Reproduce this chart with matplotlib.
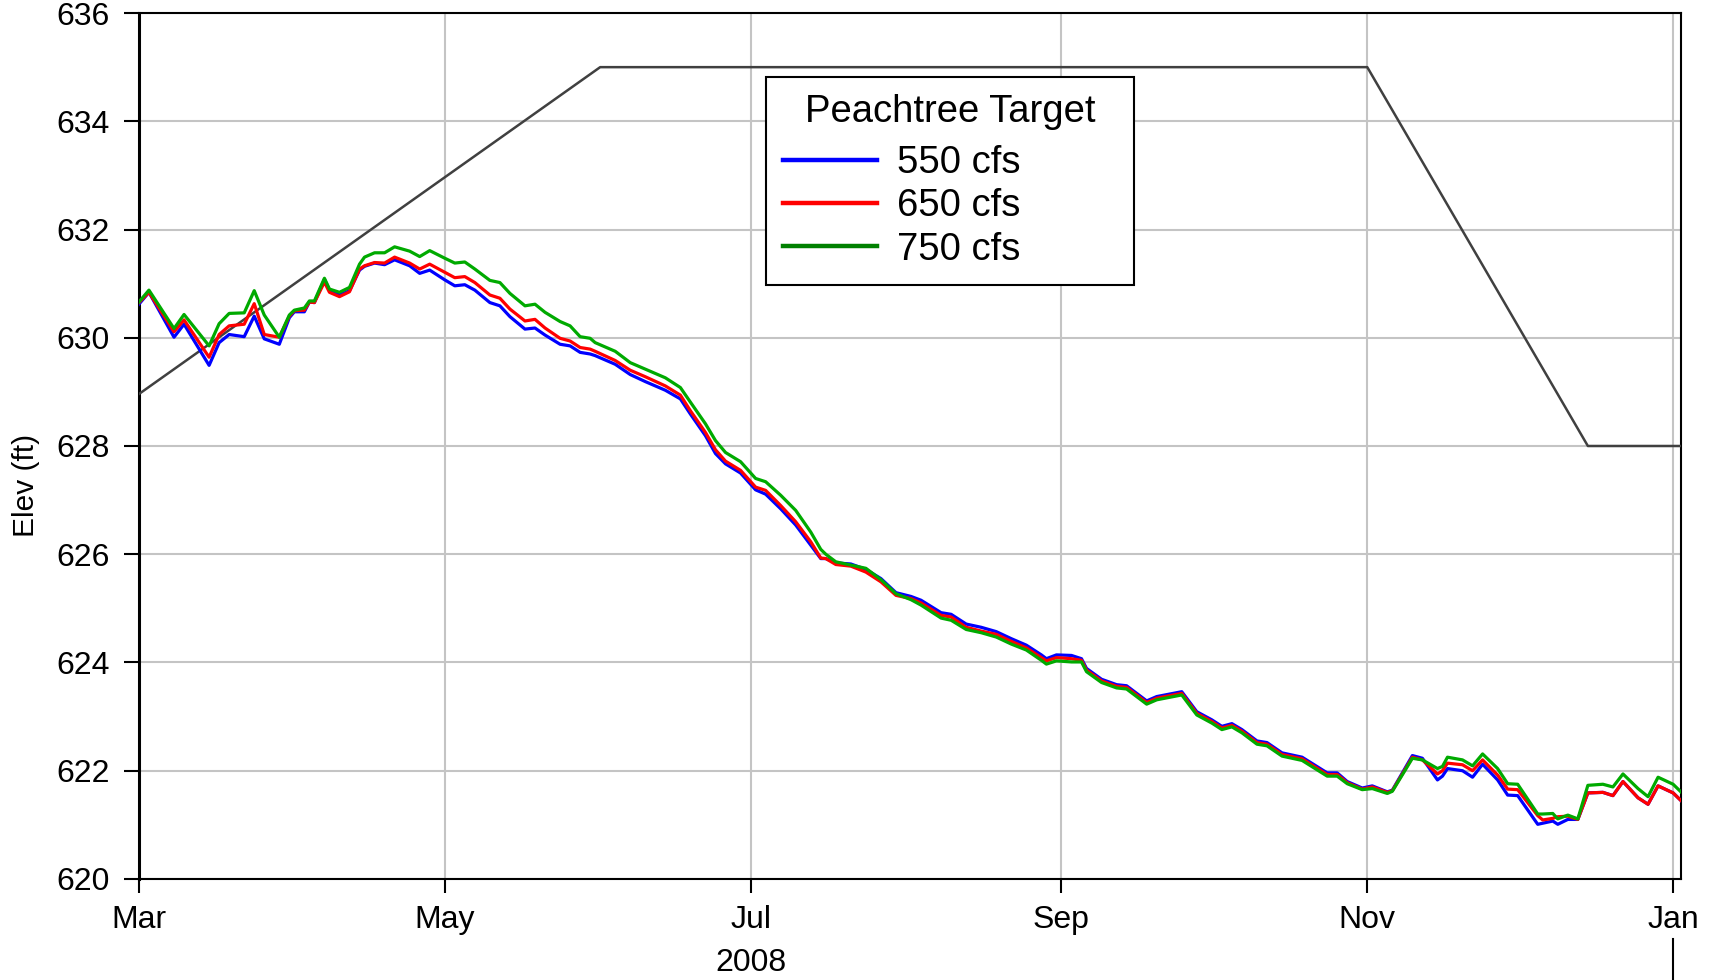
import numpy as np
import matplotlib
matplotlib.use('Agg')
from matplotlib import pyplot as plt
import matplotlib.dates as mdates
from matplotlib.lines import Line2D

plt.rcParams['font.family'] = ['Liberation Sans', 'DejaVu Sans']

# days after 2008-03-01
days = [0, 2, 7, 9, 14, 16, 18, 21, 23, 25, 28, 30, 31, 33, 34, 35, 37, 38, 40, 42,
        44, 45, 47, 49, 51, 54, 56, 58, 61, 63, 65, 67, 70, 72, 74, 77, 79, 81, 84, 86,
        88, 90, 91, 95, 98, 101, 105, 108, 110, 113, 115, 117, 120, 123, 125, 128, 131, 134, 136, 137,
        139, 142, 145, 148, 151, 154, 156, 160, 162, 165, 168, 171, 174, 177, 180, 181, 183, 186, 188, 189,
        192, 195, 197, 201, 203, 208, 211, 214, 216, 218, 220, 223, 225, 228, 231, 232, 237, 239, 241, 244,
        246, 249, 250, 254, 256, 259, 260, 261, 264, 266, 268, 271, 273, 275, 279, 280, 282, 283, 285, 287,
        289, 292, 294, 296, 299, 301, 303, 306, 308]

elev_550 = [630.62, 630.84, 630.01, 630.25, 629.49, 629.91, 630.06, 630.02, 630.40, 629.98,
            629.88, 630.37, 630.48, 630.48, 630.66, 630.65, 631.08, 630.88, 630.79, 630.87,
            631.25, 631.32, 631.38, 631.35, 631.44, 631.33, 631.19, 631.25, 631.07, 630.96,
            630.98, 630.88, 630.65, 630.59, 630.39, 630.16, 630.18, 630.05, 629.88, 629.85,
            629.73, 629.70, 629.67, 629.51, 629.32, 629.19, 629.03, 628.87, 628.59, 628.19,
            627.86, 627.67, 627.50, 627.19, 627.11, 626.84, 626.54, 626.17, 625.92, 625.92,
            625.84, 625.82, 625.72, 625.55, 625.29, 625.22, 625.15, 624.92, 624.89, 624.71,
            624.65, 624.57, 624.44, 624.32, 624.14, 624.07, 624.14, 624.13, 624.07, 623.89,
            623.69, 623.59, 623.57, 623.29, 623.37, 623.46, 623.09, 622.94, 622.82, 622.87,
            622.76, 622.55, 622.52, 622.33, 622.27, 622.25, 621.96, 621.96, 621.80, 621.68,
            621.72, 621.61, 621.64, 622.28, 622.23, 621.83, 621.90, 622.04, 622.00, 621.88,
            622.12, 621.83, 621.55, 621.54, 621.01, 621.03, 621.07, 621.01, 621.10, 621.10,
            621.59, 621.60, 621.54, 621.80, 621.50, 621.38, 621.72, 621.59, 621.41]

elev_650 = [630.65, 630.84, 630.11, 630.33, 629.64, 630.06, 630.22, 630.25, 630.63, 630.06,
            630.01, 630.40, 630.50, 630.51, 630.66, 630.65, 631.03, 630.84, 630.76, 630.85,
            631.27, 631.33, 631.39, 631.38, 631.49, 631.38, 631.27, 631.36, 631.21, 631.11,
            631.13, 631.02, 630.79, 630.73, 630.53, 630.31, 630.34, 630.18, 629.99, 629.94,
            629.82, 629.79, 629.75, 629.58, 629.40, 629.28, 629.11, 628.94, 628.65, 628.25,
            627.93, 627.72, 627.55, 627.24, 627.18, 626.90, 626.60, 626.23, 625.93, 625.92,
            625.81, 625.78, 625.67, 625.49, 625.24, 625.18, 625.10, 624.87, 624.84, 624.65,
            624.58, 624.52, 624.39, 624.27, 624.09, 624.03, 624.09, 624.07, 624.04, 623.86,
            623.66, 623.56, 623.54, 623.26, 623.34, 623.43, 623.06, 622.91, 622.79, 622.84,
            622.73, 622.52, 622.49, 622.30, 622.24, 622.22, 621.93, 621.93, 621.78, 621.66,
            621.70, 621.60, 621.63, 622.25, 622.20, 621.94, 622.00, 622.14, 622.11, 622.00,
            622.20, 621.92, 621.66, 621.65, 621.17, 621.09, 621.12, 621.15, 621.16, 621.10,
            621.59, 621.60, 621.54, 621.80, 621.50, 621.38, 621.72, 621.59, 621.41]

elev_750 = [630.66, 630.88, 630.17, 630.43, 629.85, 630.26, 630.45, 630.46, 630.87, 630.42,
            630.01, 630.42, 630.51, 630.55, 630.68, 630.68, 631.10, 630.90, 630.84, 630.93,
            631.36, 631.49, 631.57, 631.57, 631.68, 631.60, 631.50, 631.61, 631.47, 631.38,
            631.40, 631.27, 631.06, 631.02, 630.82, 630.59, 630.62, 630.47, 630.30, 630.22,
            630.02, 629.99, 629.91, 629.75, 629.54, 629.42, 629.26, 629.08, 628.81, 628.41,
            628.10, 627.88, 627.71, 627.40, 627.34, 627.09, 626.81, 626.41, 626.09, 626.00,
            625.86, 625.80, 625.74, 625.53, 625.27, 625.16, 625.06, 624.82, 624.78, 624.61,
            624.55, 624.47, 624.34, 624.23, 624.04, 623.97, 624.03, 624.01, 624.01, 623.83,
            623.63, 623.53, 623.51, 623.23, 623.31, 623.40, 623.03, 622.88, 622.76, 622.81,
            622.70, 622.49, 622.46, 622.27, 622.21, 622.19, 621.90, 621.90, 621.76, 621.65,
            621.67, 621.58, 621.62, 622.23, 622.20, 622.04, 622.08, 622.25, 622.20, 622.09,
            622.31, 622.04, 621.76, 621.75, 621.20, 621.20, 621.21, 621.11, 621.18, 621.11,
            621.73, 621.75, 621.70, 621.94, 621.67, 621.52, 621.88, 621.75, 621.57]

# guide curve
target_days = [0, 92, 245, 289, 308]
target_elev = [628.96, 635.0, 635.0, 628.0, 628.0]

labels = ['550 cfs', '650 cfs', '750 cfs']
line_colors = ['#0000ff', '#ff0000', '#00aa00']
legend_colors = ['#0000ff', '#ff0000', '#008000']

start = np.datetime64('2008-03-01')
x = start + np.array(days).astype('timedelta64[D]')
xt = start + np.array(target_days).astype('timedelta64[D]')

fig = plt.figure(figsize=(17.15, 9.8), dpi=100)
ax = fig.add_axes([0.0810, 0.1031, 0.8992, 0.8836])

ax.plot(xt, target_elev, color='#404040', lw=1.8, zorder=3)
for vals, c in zip([elev_550, elev_650, elev_750], line_colors):
    ax.plot(x, vals, color=c, lw=2.3, zorder=4)

ax.set_xlim(np.datetime64('2008-03-01'), np.datetime64('2009-01-02T14:00'))
ax.set_ylim(620, 636)
ax.set_yticks(np.arange(620, 637, 2))
ax.xaxis.set_major_locator(mdates.MonthLocator(bymonth=[1, 3, 5, 7, 9, 11]))
ax.xaxis.set_major_formatter(mdates.DateFormatter('%b'))

ax.grid(True, color='#c4c4c4', lw=1.5, zorder=0)
ax.set_axisbelow(True)
ax.tick_params(axis='y', direction='out', length=11, width=1.5, pad=10, labelsize=23)
ax.tick_params(axis='x', direction='out', length=10, width=1.5, pad=9, labelsize=23)
for s in ['top', 'right', 'bottom']:
    ax.spines[s].set_linewidth(1.5)
ax.spines['left'].set_linewidth(2.2)

ax.set_ylabel('Elev (ft)', fontsize=21.5)
ax.yaxis.set_label_coords(-0.0639, 0.4545)

# year label under the month axis
ax.text(np.datetime64('2008-07-01'), -0.0975, '2008', fontsize=23, ha='center', va='center',
        transform=ax.get_xaxis_transform())
ax.axvline(np.datetime64('2009-01-01'), ymin=-0.117, ymax=-0.069, color='black', lw=1.5, clip_on=False)

handles = [Line2D([], [], color=c, lw=3.2) for c in legend_colors]
leg = ax.legend(handles, labels, title='Peachtree Target', loc='upper left',
                bbox_to_anchor=(0.4064, 0.5, 0.239, 0.4266), mode='expand', borderaxespad=0,
                fontsize=27.5, title_fontsize=27.5,
                fancybox=False, framealpha=1, edgecolor='black', handlelength=2.46,
                handletextpad=0.52, labelspacing=0.19, borderpad=0.46)
leg._legend_box.sep += 5.5  # a bit more room under the title
leg.get_frame().set_linewidth(1.5)
leg.set_zorder(5)

fig.savefig('out.png', dpi=100)
